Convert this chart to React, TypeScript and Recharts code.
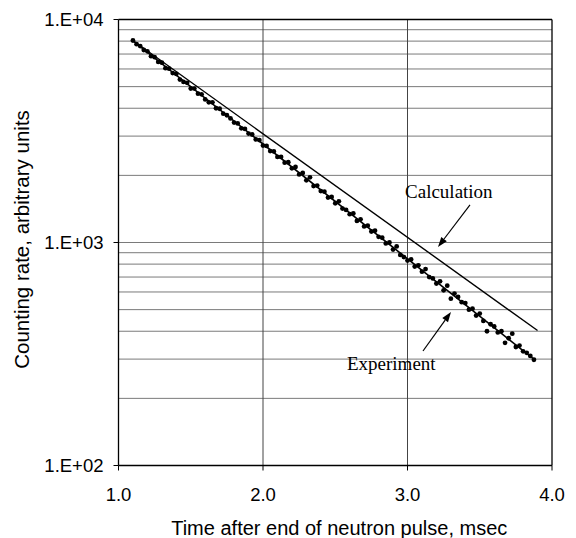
import React from 'react';
import { ComposedChart, Scatter, Line, XAxis, YAxis, ReferenceLine, ReferenceDot } from 'recharts';

// Experiment: time after end of neutron pulse (msec) and counting rate
const expTime = [
  1.1, 1.125, 1.15, 1.175, 1.2, 1.225, 1.25, 1.275, 1.3, 1.325, 1.35, 1.375, 1.4, 1.425, 1.45, 1.475,
  1.5, 1.525, 1.55, 1.575, 1.6, 1.625, 1.65, 1.675, 1.7, 1.725, 1.75, 1.775, 1.8, 1.825, 1.85, 1.875,
  1.9, 1.925, 1.95, 1.975, 2.0, 2.025, 2.05, 2.075, 2.1, 2.125, 2.15, 2.175, 2.2, 2.225, 2.25, 2.275,
  2.3, 2.325, 2.35, 2.375, 2.4, 2.425, 2.45, 2.475, 2.5, 2.525, 2.55, 2.575, 2.6, 2.625, 2.65, 2.675,
  2.7, 2.725, 2.75, 2.775, 2.8, 2.825, 2.85, 2.875, 2.9, 2.925, 2.95, 2.975, 3.0, 3.025, 3.05, 3.075,
  3.1, 3.125, 3.15, 3.175, 3.2, 3.225, 3.25, 3.275, 3.3, 3.325, 3.35, 3.375, 3.4, 3.425, 3.45, 3.475,
  3.5, 3.525, 3.55, 3.575, 3.6, 3.625, 3.65, 3.675, 3.7, 3.725, 3.75, 3.775, 3.8, 3.825, 3.85, 3.875,
];
const expCount = [
  8050, 7750, 7600, 7300, 7200, 6850, 6780, 6450, 6400, 6050, 6020, 5750, 5700, 5380, 5250, 5200,
  4900, 4900, 4650, 4620, 4380, 4250, 4250, 4000, 3980, 3780, 3720, 3600, 3450, 3420, 3250, 3230,
  3080, 3050, 2900, 2880, 2720, 2710, 2570, 2560, 2420, 2420, 2280, 2290, 2150, 2180, 2020, 2050,
  1900, 1960, 1790, 1800, 1700, 1690, 1590, 1600, 1500, 1530, 1420, 1400, 1340, 1350, 1250, 1270,
  1180, 1190, 1120, 1130, 1060, 1050, 990, 1000, 930, 960, 880, 860, 830, 840, 780, 790,
  740, 760, 700, 690, 655, 670, 610, 640, 560, 590, 570, 540, 535, 500, 505, 470,
  480, 445, 400, 430, 420, 395, 400, 355, 372, 390, 340, 345, 325, 320, 310, 298,
];

// Calculation line and experiment trend line (end points)
const calcTime = [1.09, 3.9];
const calcCount = [8130, 403];
const fitTime = [1.09, 3.885];
const fitCount = [8130, 296];

const xTicks = [1, 2, 3, 4];
const yTicks = [100, 1000, 10000];
const yGrid = [200, 300, 400, 500, 600, 700, 800, 900, 1000, 2000, 3000, 4000, 5000, 6000, 7000, 8000, 9000];
const xGrid = [2, 3];

const xTitle = 'Time after end of neutron pulse, msec';
const yTitle = 'Counting rate,  arbitrary units';
const calcLabel = 'Calculation';
const expLabel = 'Experiment';

const expData = expTime.map((x, i) => ({ x, y: expCount[i] }));
const calcData = calcTime.map((x, i) => ({ x, y: calcCount[i] }));
const fitData = fitTime.map((x, i) => ({ x, y: fitCount[i] }));

const SANS = '"Liberation Sans", Arial, sans-serif';
const SERIF = '"Liberation Serif", "Times New Roman", serif';

const fmtY = (v: number) => `1.E+${String(Math.round(Math.log10(v))).padStart(2, '0')}`;

const Dot = (p: any) => <circle cx={p.cx} cy={p.cy} r={2.4} fill="#000" />;

const makeText = (txt: string) => (p: any) => (
  <text x={p.cx} y={p.cy} fontFamily={SERIF} fontSize={19} fill="#000" textAnchor="start">
    {txt}
  </text>
);

const makeArrow = (dx: number, dy: number) => (p: any) => {
  const { cx, cy } = p;
  const len = Math.sqrt(dx * dx + dy * dy);
  const ux = -dx / len;
  const uy = -dy / len; // direction from tail to tip
  const hl = 10;
  const hw = 3.5;
  const bx = cx - ux * hl;
  const by = cy - uy * hl;
  const px = -uy;
  const py = ux;
  return (
    <g>
      <line x1={cx + dx} y1={cy + dy} x2={bx} y2={by} stroke="#000" strokeWidth={1.2} />
      <polygon
        points={`${cx},${cy} ${bx + px * hw},${by + py * hw} ${bx - px * hw},${by - py * hw}`}
        fill="#000"
      />
    </g>
  );
};

const YTitle = (props: any) => {
  const vb = props.viewBox || {};
  const cx = 29;
  const cy = (vb.y ?? 19.5) + (vb.height ?? 446) / 2 - 3;
  return (
    <text
      x={cx}
      y={cy}
      transform={`rotate(-90 ${cx} ${cy})`}
      textAnchor="middle"
      fontFamily={SANS}
      fontSize={20.5}
      fill="#000"
    >
      {yTitle}
    </text>
  );
};

export default function App() {
  return (
    <div style={{ position: 'absolute', left: 0, top: 0, background: '#fff' }}>
      <ComposedChart width={576} height={538} margin={{ top: 19.5, right: 24, bottom: 0, left: 0 }}>
        <XAxis
          type="number"
          dataKey="x"
          domain={[1, 4]}
          ticks={xTicks}
          tickFormatter={(v: number) => v.toFixed(1)}
          height={72.5}
          tickSize={5}
          tickMargin={17}
          allowDataOverflow
          axisLine={{ stroke: '#000', strokeWidth: 1.3 }}
          tickLine={{ stroke: '#000' }}
          tick={{ fontSize: 18.5, fill: '#000', fontFamily: SANS }}
          label={{
            value: xTitle,
            position: 'insideBottom',
            offset: 3,
            fontSize: 20,
            fill: '#000',
            fontFamily: SANS,
            dx: 4,
          }}
        />
        <YAxis
          type="number"
          dataKey="y"
          scale="log"
          domain={[100, 10000]}
          ticks={yTicks}
          tickFormatter={fmtY}
          width={118.5}
          tickSize={5}
          tickMargin={10}
          allowDataOverflow
          axisLine={{ stroke: '#000', strokeWidth: 1.3 }}
          tickLine={{ stroke: '#000' }}
          tick={{ fontSize: 18.5, fill: '#000', fontFamily: SANS }}
          label={{ content: YTitle }}
        />
        {yGrid.map((v) => (
          <ReferenceLine key={'gy' + v} y={v} stroke="#7a7a7a" strokeWidth={1} />
        ))}
        {xGrid.map((v) => (
          <ReferenceLine key={'gx' + v} x={v} stroke="#444" strokeWidth={1} />
        ))}
        <ReferenceLine y={10000} stroke="#000" strokeWidth={1.3} />
        <ReferenceLine x={4} stroke="#000" strokeWidth={1.3} />
        <Line
          data={calcData}
          dataKey="y"
          type="linear"
          stroke="#000"
          strokeWidth={1.4}
          dot={false}
          activeDot={false}
          isAnimationActive={false}
        />
        <Line
          data={fitData}
          dataKey="y"
          type="linear"
          stroke="#000"
          strokeWidth={1.6}
          dot={false}
          activeDot={false}
          isAnimationActive={false}
        />
        <Scatter data={expData} dataKey="y" shape={Dot} isAnimationActive={false} />
        <ReferenceDot x={2.983} y={1585} r={0} shape={makeText(calcLabel)} />
        <ReferenceDot x={2.581} y={268} r={0} shape={makeText(expLabel)} />
        <ReferenceDot x={3.211} y={955} r={0} shape={makeArrow(32, -42)} />
        <ReferenceDot x={3.301} y={488} r={0} shape={makeArrow(-28, 39)} />
      </ComposedChart>
    </div>
  );
}
